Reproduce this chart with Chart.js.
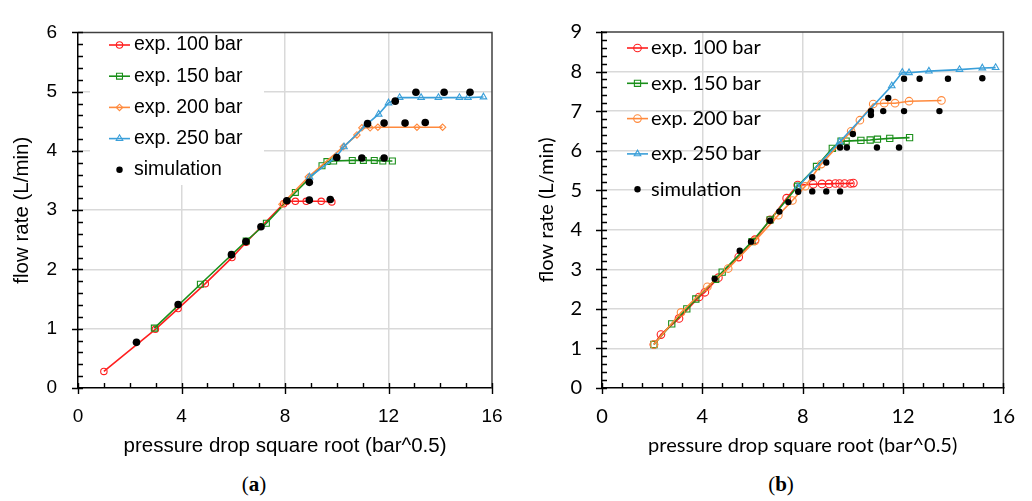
<!DOCTYPE html>
<html>
<head>
<meta charset="utf-8">
<script src="https://cdn.jsdelivr.net/npm/chart.js@4.4.1/dist/chart.umd.min.js"></script>
<style>
  body { margin: 0; background: #fff; width: 1032px; height: 501px; overflow: hidden; position: relative; }
  .box { position: absolute; top: 0; height: 470px; }
  #boxA { left: 0; width: 520px; }
  #boxB { left: 520px; width: 512px; }
  .cap { position: absolute; top: 472px; font: 21px "Liberation Serif", serif; transform: translateX(-50%); color: #000; }
</style>
</head>
<body>
<div class="box" id="boxA"><canvas id="chartA"></canvas></div>
<div class="box" id="boxB"><canvas id="chartB"></canvas></div>
<div class="cap" style="left:254px">(<b>a</b>)</div>
<div class="cap" style="left:781px">(<b>b</b>)</div>
<script>
// axis ranges / tick steps
const xRange = [0, 16];
const xStep = 4;
const yRangeA = [0, 6];
const yRangeB = [0, 9];
const yStep = 1;

const seriesNames = ["exp. 100 bar", "exp. 150 bar", "exp. 200 bar", "exp. 250 bar", "simulation"];

// (a)  [sqrt(dp), flow]
const a100 = [[1.0, 0.28], [2.99, 0.99], [3.87, 1.34], [4.92, 1.76], [5.95, 2.2], [6.5, 2.46], [7.95, 3.11],
  [8.07, 3.15], [8.4, 3.15], [8.82, 3.15], [9.4, 3.15], [9.81, 3.14]];
const a150 = [[2.95, 1.01], [4.73, 1.75], [6.5, 2.48], [7.28, 2.78], [8.4, 3.3], [9.43, 3.75], [9.62, 3.82],
  [9.88, 3.83], [10.6, 3.84], [11.03, 3.84], [11.45, 3.84], [11.78, 3.83], [12.15, 3.83]];
const a200 = [[7.88, 3.1], [8.9, 3.56], [10.25, 4.07], [10.78, 4.27], [10.97, 4.39], [11.29, 4.39],
  [11.59, 4.4], [13.1, 4.4], [14.09, 4.4]];
const a250 = [[8.95, 3.56], [9.98, 3.9], [10.28, 4.07], [11.14, 4.44], [11.62, 4.62], [12.0, 4.81],
  [12.43, 4.9], [13.26, 4.9], [13.93, 4.9], [14.74, 4.9], [15.07, 4.9], [15.67, 4.91]];
const aSim = [[2.26, 0.77], [3.87, 1.41], [5.93, 2.25], [6.49, 2.47], [7.07, 2.72], [8.07, 3.16], [8.94, 3.17],
  [9.75, 3.18], [8.94, 3.47], [10.0, 3.89], [10.97, 3.88], [11.83, 3.88], [11.19, 4.46], [11.83, 4.47],
  [12.64, 4.47], [13.42, 4.48], [12.26, 4.84], [13.06, 4.99], [14.15, 4.99], [15.15, 4.99]];

// (b)
const b100 = [[2.07, 1.1], [2.35, 1.35], [3.07, 1.76], [3.87, 2.3], [4.1, 2.42], [4.64, 2.79], [5.45, 3.31],
  [6.1, 3.75], [6.7, 4.25], [7.36, 4.8], [7.8, 5.13], [8.42, 5.15], [8.77, 5.16], [9.05, 5.16], [9.3, 5.17],
  [9.47, 5.17], [9.67, 5.17], [9.9, 5.17], [10.02, 5.18]];
const b150 = [[2.07, 1.1], [2.78, 1.62], [3.38, 2.0], [3.74, 2.25], [4.53, 2.75], [4.79, 2.93], [5.98, 3.7],
  [6.7, 4.25], [7.8, 5.1], [8.55, 5.6], [9.18, 6.06], [9.53, 6.24], [9.73, 6.24], [10.32, 6.26], [10.69, 6.27],
  [10.98, 6.29], [11.47, 6.31], [12.26, 6.33]];
const b200 = [[2.07, 1.1], [3.15, 1.91], [4.2, 2.56], [5.03, 3.02], [6.1, 3.72], [7.03, 4.37], [7.59, 4.74],
  [8.1, 5.1], [8.74, 5.66], [9.93, 6.49], [10.28, 6.77], [10.81, 7.18], [11.25, 7.2], [11.68, 7.2],
  [12.24, 7.25], [13.53, 7.27]];
const b250 = [[7.8, 5.08], [9.47, 6.22], [11.55, 7.64], [11.97, 7.98], [12.24, 7.97], [13.03, 8.01],
  [14.25, 8.05], [15.16, 8.09], [15.69, 8.1]];
const bSim = [[4.49, 2.76], [5.49, 3.47], [5.94, 3.7], [6.7, 4.23], [7.07, 4.46], [7.43, 4.7], [7.82, 4.96],
  [8.38, 5.33], [8.38, 4.97], [8.94, 4.97], [9.49, 4.97], [8.94, 5.7], [9.49, 6.08], [9.76, 6.08],
  [10.96, 6.08], [11.84, 6.08], [10.0, 6.42], [10.72, 7.0], [10.72, 6.9], [11.21, 7.0], [12.04, 7.0],
  [13.45, 7.0], [11.41, 7.33], [12.04, 7.82], [12.66, 7.82], [13.79, 7.82], [15.16, 7.83]];

const RED = "#ff1f1f", GREEN = "#1a8f1a", ORANGE = "#ff8a3d", BLUE = "#3a9fd9";
const NOFILL = "rgba(255,255,255,0)";

function ds(label, pts, color, style, r, order) {
  const sim = color === "#000";
  return {
    label: label,
    data: pts.map(p => ({ x: p[0], y: p[1] })),
    showLine: !sim,
    borderColor: color,
    borderWidth: 1.6,
    pointStyle: style,
    pointRadius: r,
    pointBorderColor: color,
    pointBackgroundColor: sim ? color : NOFILL,
    pointBorderWidth: sim ? 0 : 1.1,
    order: order
  };
}

// white box behind the legend (panel a only)
const legendBoxPlugin = {
  id: "legendBox",
  beforeDatasetsDraw(chart, args, o) {
    if (!o.rect) return;
    const ctx = chart.ctx;
    ctx.save();
    ctx.fillStyle = "#fff";
    ctx.fillRect(o.rect[0], o.rect[1], o.rect[2], o.rect[3]);
    ctx.restore();
  }
};

// legend drawn inside plot, line + marker + text
const insideLegend = {
  id: "insideLegend",
  afterDraw(chart, args, o) {
    const ctx = chart.ctx;
    ctx.save();
    ctx.font = o.font;
    ctx.textBaseline = "middle";
    chart.data.datasets.forEach((d, i) => {
      const y = o.y0 + i * o.dy;
      const mx = o.x + o.len / 2;
      if (d.showLine) {
        ctx.strokeStyle = d.borderColor;
        ctx.lineWidth = d.borderWidth;
        ctx.beginPath();
        ctx.moveTo(o.x, y);
        ctx.lineTo(o.x + o.len, y);
        ctx.stroke();
      }
      ctx.strokeStyle = d.pointBorderColor;
      ctx.fillStyle = d.pointBackgroundColor;
      ctx.lineWidth = d.pointBorderWidth;
      Chart.helpers.drawPoint(ctx, { pointStyle: d.pointStyle, radius: d.pointRadius * (o.scaleSim && !d.showLine ? o.scaleSim : 1), borderWidth: d.pointBorderWidth, rotation: 0 }, mx, y);
      ctx.fillStyle = "#000";
      ctx.fillText(d.label, o.x + o.len + o.gap, y);
    });
    ctx.restore();
  }
};

// plot frame + tick marks (major across the axis, minor inside)
const frameTicks = {
  id: "frameTicks",
  afterDraw(chart, args, o) {
    const ctx = chart.ctx;
    const a = chart.chartArea;
    const xs = chart.scales.x, ys = chart.scales.y;
    ctx.save();
    ctx.strokeStyle = "#404040";
    ctx.lineWidth = 1.5;
    ctx.beginPath();
    ctx.moveTo(a.left, a.top);
    ctx.lineTo(a.right, a.top);
    ctx.lineTo(a.right, a.bottom);
    ctx.stroke();
    ctx.strokeStyle = "#000";
    ctx.lineWidth = 1.4;
    ctx.beginPath();
    const eps = 1e-6;
    for (let v = xs.min; v <= xs.max + eps; v += o.xMinor) {
      const px = Math.round(xs.getPixelForValue(v)) + 0.5;
      const major = Math.abs(v / xStep - Math.round(v / xStep)) < 1e-4;
      ctx.moveTo(px, a.bottom - 5);
      ctx.lineTo(px, a.bottom + (major ? 6 : 0));
    }
    for (let v = ys.min; v <= ys.max + eps; v += o.yMinor) {
      const py = Math.round(ys.getPixelForValue(v)) + 0.5;
      const major = Math.abs(v / yStep - Math.round(v / yStep)) < 1e-4;
      ctx.moveTo(a.left + 5, py);
      ctx.lineTo(a.left - (major ? 6 : 0), py);
    }
    ctx.stroke();
    ctx.restore();
  }
};

function makeChart(id, sets, yRange, f, lay) {
  const tickFont = { family: f.family, size: f.tick };
  const titleFont = { family: f.family, size: f.title };
  const gridColor = c => (c.tick && (c.tick.value === c.scale.min || c.tick.value === c.scale.max)) ? NOFILL : "#d9d9d9";
  return new Chart(document.getElementById(id), {
    type: "scatter",
    data: { datasets: sets },
    plugins: [legendBoxPlugin, insideLegend, frameTicks],
    options: {
      responsive: true,
      maintainAspectRatio: false,
      animation: false,
      layout: { padding: lay.padding },
      plugins: {
        legend: { display: false },
        tooltip: { enabled: false },
        legendBox: { rect: lay.legendRect },
        insideLegend: lay.legend,
        frameTicks: { xMinor: lay.xMinor, yMinor: 0.2 }
      },
      scales: {
        x: {
          type: "linear", min: xRange[0], max: xRange[1],
          ticks: { stepSize: xStep, color: "#000", font: tickFont, padding: lay.xPad, maxRotation: 0 },
          grid: { color: gridColor, lineWidth: 1.5, drawTicks: false },
          border: { color: "#000", width: 1.5 },
          title: { display: true, text: "pressure drop square root (bar^0.5)", color: "#000", font: titleFont, padding: { top: 0, bottom: lay.xTitlePad } },
          afterFit: s => { s.height = lay.xHeight; }
        },
        y: {
          type: "linear", min: yRange[0], max: yRange[1],
          ticks: { stepSize: yStep, color: "#000", font: tickFont, padding: lay.yPad },
          grid: { color: gridColor, lineWidth: 1.5, drawTicks: false },
          border: { color: "#000", width: 1.5 },
          title: { display: true, text: "flow rate (L/min)", color: "#000", font: titleFont, padding: { top: lay.yTitlePad, bottom: 0 } },
          afterFit: s => { s.width = lay.yWidth; }
        }
      }
    }
  });
}

const fontA = { family: "'Liberation Sans', Arial, sans-serif", tick: 19, title: 20.5 };
const fontB = { family: "Lato, sans-serif", tick: 20, title: 20 };

makeChart("chartA", [
  ds(seriesNames[0], a100, RED, "circle", 3.2, 4),
  ds(seriesNames[1], a150, GREEN, "rect", 4.2, 3),
  ds(seriesNames[2], a200, ORANGE, "rectRot", 3.2, 2),
  ds(seriesNames[3], a250, BLUE, "triangle", 3.8, 1),
  ds(seriesNames[4], aSim, "#000", "circle", 3.8, 0)
], yRangeA, fontA, {
  padding: { left: 0, right: 28, top: 17, bottom: 0 },
  yWidth: 78, xHeight: 82, xPad: 17, yPad: 21, xTitlePad: 11, yTitlePad: 10,
  xMinor: 1,
  legendRect: [90, 18, 174, 167],
  legend: { x: 109, len: 21, gap: 4, y0: 45, dy: 31.2, font: "19.5px 'Liberation Sans', Arial, sans-serif", scaleSim: 0.85 }
});

makeChart("chartB", [
  ds(seriesNames[0], b100, RED, "circle", 3.8, 4),
  ds(seriesNames[1], b150, GREEN, "rect", 4.4, 3),
  ds(seriesNames[2], b200, ORANGE, "circle", 3.8, 2),
  ds(seriesNames[3], b250, BLUE, "triangle", 3.8, 1),
  ds(seriesNames[4], bSim, "#000", "circle", 3.2, 0)
], yRangeB, fontB, {
  padding: { left: 0, right: 25, top: 20, bottom: 0 },
  yWidth: 82, xHeight: 82, xPad: 17, yPad: 20, xTitlePad: 12, yTitlePad: 15,
  xMinor: 0.8,
  legendRect: null,
  legend: { x: 107, len: 21, gap: 3, y0: 48, dy: 35.3, font: "20px Lato, sans-serif", scaleSim: 1 }
});
</script>
</body>
</html>
